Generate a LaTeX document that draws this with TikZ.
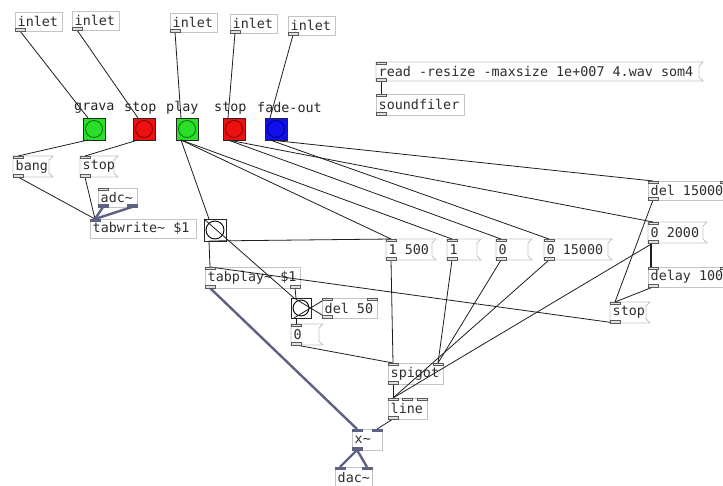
\documentclass[tikz,border=0pt]{standalone}
\usepackage{fontspec}
\setmonofont{DejaVu Sans Mono}
\usetikzlibrary{calc}
\definecolor{boxgray}{HTML}{C4C4C4}
\definecolor{txt}{HTML}{2E2E2E}
\definecolor{sig}{HTML}{5E6282}
\definecolor{wirec}{HTML}{1E1E1E}
\definecolor{bgreen}{HTML}{2ADE2A}
\definecolor{bred}{HTML}{EC1010}
\definecolor{bblue}{HTML}{1010EC}
\tikzset{
  pdfont/.style={font=\ttfamily\fontsize{13.4}{14}\selectfont},
  pdbox/.style={anchor=north west, inner sep=0pt, outer sep=0pt, draw=boxgray, line width=0.8pt},
  msgbox/.style={pdbox, draw=none},
  boxline/.style={draw=boxgray, line width=0.8pt},
  lbl/.style={anchor=west, pdfont, text=txt, inner sep=0pt},
  iolet/.style={draw=black!65, fill=black!12, line width=0.6pt},
  siolet/.style={draw=sig, fill=sig, line width=0.6pt},
  wire/.style={draw=wirec, line width=0.8pt},
  swire/.style={draw=sig, line width=2.4pt},
  bngbox/.style={anchor=north west, minimum size=22pt, inner sep=0pt, outer sep=0pt, draw=black!85, line width=1pt},
}
\newcommand{\pdobj}[6]{%
  \node[pdbox, minimum width=#4pt, minimum height=#5pt] (#1) at (#2,#3) {};
  \node[lbl] (#1-t) at ($(#1.west)+(2.5,0)$) {#6};}
\newcommand{\pdmsg}[6]{%
  \node[msgbox, minimum width=#4pt, minimum height=#5pt] (#1) at (#2,#3) {};
  \draw[boxline] (#1.north west) -- ($(#1.north east)+(4,0)$) -- ($(#1.north east)+(0,4)$) -- ($(#1.south east)+(0,-4)$) -- ($(#1.south east)+(4,0)$) -- (#1.south west) -- cycle;
  \node[lbl] (#1-t) at ($(#1.west)+(2.5,0)$) {#6};}
\newcommand{\pdbng}[5]{% name, x, y, fill, circle outline
  \node[bngbox, fill=#4] (#1) at (#2,#3) {};
  \draw[draw=#5, fill=#4, line width=0.8pt] (#1.center) circle (8.5pt);}
\newcommand{\iL}[1]{\draw[iolet] (#1.north west) rectangle ++(10,2.5);}
\newcommand{\iR}[1]{\draw[iolet] ($(#1.north east)+(-10,0)$) rectangle ++(10,2.5);}
\newcommand{\oL}[1]{\draw[iolet] (#1.south west) rectangle ++(10,-2.5);}
\newcommand{\oR}[1]{\draw[iolet] ($(#1.south east)+(-10,0)$) rectangle ++(10,-2.5);}
\newcommand{\siL}[1]{\draw[siolet] (#1.north west) rectangle ++(10,2.5);}
\newcommand{\siR}[1]{\draw[siolet] ($(#1.north east)+(-10,0)$) rectangle ++(10,2.5);}
\newcommand{\soL}[1]{\draw[siolet] (#1.south west) rectangle ++(10,-2.5);}
\newcommand{\soR}[1]{\draw[siolet] ($(#1.south east)+(-10,0)$) rectangle ++(10,-2.5);}
\newcommand{\wire}[2]{\draw[wire] ($(#1.south west)+(5,0)$) -- ($(#2.north west)+(5,0)$);}
\newcommand{\wireR}[2]{\draw[wire] ($(#1.south west)+(5,0)$) -- ($(#2.north east)+(-5,0)$);}
\begin{document}
\begin{tikzpicture}[x=1pt,y=-1pt]
\useasboundingbox[fill=white] (0,0) rectangle (723,485);
% ---- inlets
\pdobj{in1}{15}{12}{47}{19}{inlet}
\pdobj{in2}{72}{11}{47}{19}{inlet}
\pdobj{in3}{170}{13}{47}{19}{inlet}
\pdobj{in4}{230}{14}{47}{19}{inlet}
\pdobj{in5}{288}{16}{47}{19}{inlet}
% ---- bangs
\pdbng{grava}{83}{118}{bgreen}{green!45!black}
\pdbng{stopA}{133}{118}{bred}{red!50!black}
\pdbng{play}{176}{118}{bgreen}{green!45!black}
\pdbng{stopB}{223}{118}{bred}{red!50!black}
\pdbng{fade}{265}{118}{bblue}{blue!50!black}
\node[lbl, text=black!85] (lgrava) at (74,108) {grava};
\node[lbl, text=black!85] (lstopA) at (124,108) {stop};
\node[lbl, text=black!85] (lplay) at (166,108) {play};
\node[lbl, text=black!85] (lstopB) at (214,108) {stop};
\node[lbl, text=black!85] (lfade) at (257,108) {fade-out};
% ---- read / soundfiler
\pdmsg{readm}{376}{62}{323}{19}{read -resize -maxsize 1e+007 4.wav som4}
\pdobj{soundf}{376}{94}{88}{21}{soundfiler}
% ---- record side
\pdmsg{mbang}{13}{156}{36}{21}{bang}
\pdmsg{mstop}{80}{156}{34}{21}{stop}
\pdobj{adc}{98}{188}{39}{19}{adc\textasciitilde}
\pdobj{tabw}{90}{219}{106}{19}{tabwrite\textasciitilde{} \$1}
% ---- play side
\node[bngbox, fill=white] (sqa) at (204,219) {};
\draw[line width=0.9pt] (sqa.center) circle (9pt);
\pdobj{tabplay}{205}{267}{95}{21}{tabplay\textasciitilde{} \$1}
\node[bngbox, fill=white, minimum size=20pt] (sqb) at (291,298) {};
\draw[line width=0.9pt] (sqb.center) circle (8pt);
\pdobj{del50}{322}{298}{55}{20}{del 50}
\pdmsg{zmsg}{291}{324}{28}{21}{0}
\pdmsg{m1500}{386}{239}{46}{21}{1 500}
\pdmsg{mone}{447}{239}{30}{21}{1}
\pdmsg{mzero}{496}{239}{32}{21}{0}
\pdmsg{m15000}{544}{239}{64}{21}{0 15000}
\pdobj{del15}{648}{181}{82}{19}{del 15000}
\pdmsg{m2000}{648}{222}{55}{21}{0 2000}
\pdobj{delay}{648}{267}{82}{20}{delay 100}
\pdmsg{stopR}{610}{302}{36}{21}{stop}
\pdobj{spigot}{388}{363}{55}{21}{spigot}
\pdobj{linebox}{388}{398}{39}{21}{line}
\pdobj{times}{352}{429}{30}{21}{x\textasciitilde}
\pdobj{dac}{335}{467}{37}{21}{dac\textasciitilde}
% ---- wires
\wire{in1}{grava}
\wire{in2}{stopA}
\wire{in3}{play}
\wire{in4}{stopB}
\wire{in5}{fade}
\wire{grava}{mbang}
\wire{stopA}{mstop}
\wire{mbang}{tabw}
\wire{mstop}{tabw}
\draw[swire] ($(adc.south west)+(5,0)$) -- ($(tabw.north west)+(5,0)$);
\draw[swire] ($(adc.south east)+(-5,0)$) -- ($(tabw.north west)+(5,0)$);
\wire{play}{sqa}
\wire{play}{m1500}
\wire{play}{mone}
\wire{stopB}{mzero}
\wire{stopB}{m2000}
\wire{fade}{m15000}
\wire{fade}{del15}
\wire{sqa}{tabplay}
\wire{sqa}{m1500}
\draw[wire] (sqa.north west) -- ($(sqb.north west)+(3,0)$);
\draw[wire] ($(tabplay.south east)+(-5,0)$) -- ($(sqb.north west)+(5,0)$);
\draw[wire] ($(sqb.south west)+(3,0)$) -- ($(del50.north west)+(5,0)$);
\draw[wire] ($(del50.south west)+(5,0)$) -- ($(sqb.north west)+(3,0)$);
\wire{sqb}{zmsg}
\wire{zmsg}{spigot}
\wire{m1500}{spigot}
\wireR{mone}{spigot}
\wireR{mzero}{spigot}
\wire{m15000}{linebox}
\wire{m2000}{linebox}
\wire{spigot}{linebox}
\wire{del15}{stopR}
\draw[wire, line width=1.8pt] ($(m2000.south west)+(3,0)$) -- ($(delay.north west)+(3,0)$);
\wire{delay}{stopR}
\wire{stopR}{tabplay}
\draw[swire] ($(tabplay.south west)+(5,0)$) -- ($(times.north west)+(5,0)$);
\draw[wire] ($(linebox.south west)+(5,0)$) -- ($(times.north east)+(-5,0)$);
\draw[swire] ($(times.south west)+(5,0)$) -- ($(dac.north west)+(5,0)$);
\draw[swire] ($(times.south west)+(5,0)$) -- ($(dac.north east)+(-5,0)$);
\wire{readm}{soundf}
% ---- iolets
\foreach \n in {in1,in2,in3,in4,in5,mbang,mstop,readm,soundf,tabplay,zmsg,m1500,mone,mzero,m15000,del15,m2000,delay,stopR,spigot,linebox,del50} {\oL{\n}}
\foreach \n in {mbang,mstop,adc,readm,soundf,m1500,mone,mzero,m15000,del15,m2000,delay,stopR,spigot,linebox,del50,zmsg,tabplay} {\iL{\n}}
\foreach \n in {del15,delay,spigot,linebox,del50} {\iR{\n}}
\draw[iolet] ($(linebox.north west)+(14.5,0)$) rectangle ++(10,2.5);
\oR{tabplay}
\soL{adc}\soR{adc}
\siL{tabw}
\siL{times}\siR{times}\soL{times}
\siL{dac}\siR{dac}
\end{tikzpicture}
\end{document}
